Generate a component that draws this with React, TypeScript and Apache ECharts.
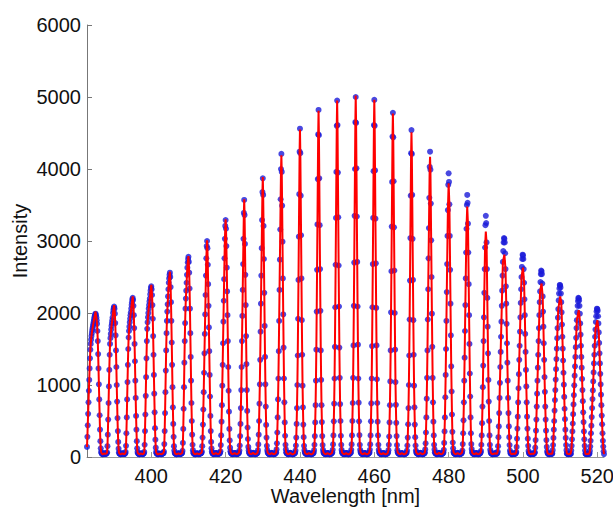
import React, { useEffect, useRef } from "react";
import * as echarts from "echarts";

// Sampling grid of the measured spectrum (nm)
const WAVELENGTH_START = 382.7;
const WAVELENGTH_STEP = 0.1;

const xTickValues = [400, 420, 440, 460, 480, 500, 520];
const yMin = 0;
const yMax = 6000;
const yInterval = 1000;

// Transmission peak centres (nm) and fitted (red curve) peak heights
const peakCentres = [385, 390, 395, 400, 405, 410, 415, 420, 425, 430, 435, 440, 445, 450, 455, 460, 465, 470, 475, 480, 485, 490, 495, 500, 505, 510, 515, 520];
const fitPeakHeights = [2020, 2110, 2230, 2390, 2575, 2790, 3010, 3300, 3580, 3890, 4190, 4550, 4810, 4950, 5020, 4960, 4770, 4510, 4170, 3800, 3480, 3130, 2810, 2630, 2410, 2230, 2040, 1900];

// Measured intensities (blue dots), one row per peak, consecutive samples on the grid
const measuredRows: number[][] = [
  [140, 280, 440, 600, 760, 920, 1070, 1230, 1370, 1490, 1570, 1630, 1680, 1720, 1760, 1790, 1820, 1850, 1880, 1910, 1940, 1960, 1980, 1990, 1970, 1940, 1900, 1850, 1750, 1610, 1430, 1230, 1010, 800, 580, 380, 220, 120, 70, 55, 48, 42, 40, 38, 41, 45, 50, 48],
  [46, 44, 42, 45, 48, 52, 65, 150, 310, 520, 750, 980, 1210, 1420, 1570, 1650, 1710, 1770, 1820, 1860, 1900, 1940, 2000, 2040, 2070, 2090, 2060, 1990, 1860, 1690, 1480, 1250, 1000, 770, 540, 360, 210, 115, 65, 50, 46, 42, 40, 39, 41, 44, 47, 50, 48, 45],
  [44, 42, 41, 43, 47, 52, 70, 155, 330, 550, 800, 1040, 1280, 1500, 1660, 1750, 1810, 1870, 1920, 1970, 2010, 2060, 2110, 2150, 2190, 2210, 2180, 2100, 1970, 1790, 1570, 1330, 1060, 820, 570, 380, 220, 120, 70, 52, 47, 43, 40, 38, 40, 43, 46, 49, 47, 44],
  [43, 41, 40, 42, 46, 52, 70, 170, 360, 590, 850, 1110, 1370, 1610, 1780, 1870, 1940, 2000, 2060, 2110, 2160, 2200, 2260, 2310, 2350, 2370, 2330, 2250, 2110, 1920, 1680, 1420, 1140, 880, 620, 400, 240, 130, 70, 52, 46, 42, 40, 38, 39, 42, 45, 48, 46, 43],
  [42, 40, 39, 41, 44, 47, 50, 52, 55, 75, 180, 360, 610, 900, 1200, 1480, 1720, 1890, 2020, 2120, 2230, 2330, 2420, 2480, 2530, 2560, 2500, 2360, 2150, 1890, 1590, 1280, 970, 690, 460, 280, 150, 90, 58, 50, 45, 42, 40, 38, 39, 41, 44, 47, 50, 48],
  [46, 43, 41, 40, 42, 45, 49, 52, 56, 85, 195, 390, 670, 970, 1310, 1610, 1860, 2060, 2200, 2310, 2420, 2530, 2630, 2700, 2750, 2780, 2710, 2560, 2340, 2060, 1720, 1390, 1060, 750, 500, 310, 170, 95, 60, 52, 46, 42, 40, 39, 40, 42, 45, 48, 51, 49],
  [46, 43, 41, 40, 41, 43, 46, 49, 52, 55, 58, 75, 150, 270, 450, 660, 900, 1170, 1440, 1710, 1980, 2250, 2520, 2760, 2930, 3000, 2900, 2670, 2400, 2100, 1800, 1470, 1140, 840, 570, 360, 210, 120, 75, 58, 50, 45, 42, 40, 41, 43, 46, 49, 52, 55],
  [52, 48, 45, 42, 41, 42, 44, 47, 50, 54, 58, 80, 165, 300, 490, 720, 990, 1280, 1580, 1880, 2170, 2470, 2760, 3030, 3210, 3290, 3170, 2930, 2630, 2300, 1970, 1610, 1250, 920, 630, 390, 230, 130, 80, 60, 52, 46, 43, 41, 40, 42, 45, 48, 51, 54],
  [55, 50, 46, 43, 41, 40, 42, 44, 47, 50, 54, 60, 90, 160, 290, 460, 680, 930, 1250, 1610, 1960, 2320, 2680, 3030, 3390, 3570, 3360, 2960, 2530, 2110, 1680, 1290, 930, 640, 410, 250, 140, 90, 62, 52, 47, 43, 41, 40, 41, 43, 46, 49, 53, 58],
  [54, 49, 45, 42, 40, 40, 41, 43, 46, 50, 55, 62, 95, 175, 310, 500, 740, 1010, 1350, 1740, 2130, 2520, 2900, 3290, 3680, 3870, 3640, 3210, 2750, 2280, 1820, 1390, 1010, 700, 445, 270, 155, 95, 64, 54, 48, 44, 41, 40, 40, 42, 45, 48, 52, 57],
  [53, 48, 44, 41, 40, 40, 41, 44, 47, 51, 56, 64, 105, 190, 340, 550, 800, 1090, 1470, 1890, 2320, 2740, 3160, 3580, 4000, 4210, 3960, 3490, 2990, 2480, 1980, 1520, 1090, 760, 480, 295, 170, 105, 66, 55, 49, 45, 42, 40, 40, 42, 45, 48, 53, 58],
  [52, 48, 45, 42, 40, 39, 40, 42, 44, 47, 50, 54, 60, 90, 160, 270, 460, 680, 1000, 1410, 1920, 2460, 3060, 3650, 4240, 4560, 4220, 3630, 3080, 2480, 1900, 1420, 990, 690, 450, 275, 155, 95, 66, 56, 50, 46, 43, 41, 40, 41, 43, 46, 50, 55],
  [53, 48, 45, 42, 40, 39, 40, 42, 44, 47, 50, 55, 62, 95, 170, 290, 480, 720, 1060, 1490, 2020, 2600, 3230, 3860, 4480, 4820, 4470, 3870, 3220, 2610, 2030, 1480, 1070, 720, 485, 290, 165, 100, 68, 57, 50, 46, 43, 41, 40, 41, 43, 46, 50, 56],
  [54, 49, 45, 42, 40, 39, 40, 42, 44, 47, 51, 56, 63, 100, 175, 300, 495, 740, 1090, 1530, 2080, 2670, 3320, 3960, 4600, 4950, 4610, 3950, 3330, 2660, 2090, 1520, 1100, 735, 500, 295, 170, 100, 68, 57, 50, 46, 43, 41, 40, 41, 43, 46, 51, 56],
  [54, 49, 45, 42, 40, 39, 40, 42, 44, 47, 51, 56, 63, 100, 175, 300, 500, 750, 1100, 1550, 2100, 2700, 3350, 4000, 4650, 5000, 4640, 4010, 3340, 2710, 2090, 1560, 1090, 755, 495, 305, 170, 100, 69, 58, 51, 46, 43, 41, 40, 41, 43, 46, 51, 56],
  [54, 49, 45, 42, 40, 39, 40, 42, 44, 47, 51, 56, 63, 100, 175, 300, 495, 745, 1090, 1540, 2080, 2680, 3320, 3970, 4610, 4960, 4600, 3980, 3310, 2690, 2070, 1550, 1080, 750, 490, 300, 170, 100, 68, 57, 50, 46, 43, 41, 40, 41, 43, 46, 50, 56],
  [53, 48, 45, 42, 40, 39, 40, 42, 44, 47, 50, 55, 62, 95, 170, 285, 480, 720, 1050, 1480, 2010, 2580, 3200, 3820, 4450, 4780, 4440, 3830, 3190, 2590, 2000, 1490, 1040, 725, 475, 290, 165, 95, 66, 56, 50, 46, 43, 41, 40, 41, 43, 46, 50, 55],
  [52, 48, 45, 42, 40, 39, 40, 42, 44, 47, 50, 54, 60, 90, 160, 270, 455, 680, 1000, 1410, 1910, 2450, 3040, 3630, 4220, 4540, 4210, 3640, 3030, 2460, 1900, 1420, 990, 690, 450, 275, 160, 90, 64, 55, 49, 45, 42, 40, 40, 42, 45, 48, 52, 57],
  [54, 49, 45, 42, 40, 40, 41, 43, 46, 50, 55, 62, 105, 190, 340, 550, 810, 1100, 1480, 1910, 2330, 2760, 3180, 3600, 4030, 4240, 3990, 3520, 3010, 2500, 1990, 1530, 1100, 760, 490, 300, 170, 105, 66, 55, 49, 45, 42, 40, 40, 42, 45, 48, 52, 58],
  [53, 48, 45, 42, 40, 40, 41, 43, 46, 50, 55, 63, 100, 195, 355, 550, 830, 1140, 1500, 1890, 2290, 2680, 3070, 3430, 3780, 3940, 3820, 3510, 3070, 2600, 2130, 1690, 1260, 910, 590, 350, 200, 120, 72, 57, 50, 46, 43, 41, 40, 41, 43, 46, 51, 57],
  [52, 48, 44, 42, 40, 40, 41, 43, 46, 50, 54, 62, 90, 180, 330, 510, 760, 1060, 1380, 1750, 2110, 2480, 2840, 3170, 3500, 3640, 3530, 3240, 2840, 2400, 1970, 1570, 1160, 840, 550, 330, 180, 110, 70, 56, 50, 46, 43, 41, 40, 41, 43, 46, 50, 56],
  [51, 47, 44, 42, 40, 40, 41, 43, 46, 49, 54, 61, 85, 170, 300, 470, 700, 970, 1270, 1610, 1940, 2280, 2610, 2910, 3220, 3350, 3250, 2980, 2610, 2210, 1810, 1440, 1070, 770, 500, 300, 170, 100, 68, 55, 49, 45, 42, 40, 40, 41, 43, 45, 48, 52],
  [50, 47, 45, 44, 45, 48, 56, 75, 150, 275, 425, 610, 820, 1030, 1250, 1460, 1670, 1880, 2100, 2310, 2520, 2710, 2860, 2980, 3040, 3030, 2980, 2830, 2610, 2370, 2130, 1850, 1580, 1310, 1060, 820, 610, 425, 275, 165, 90, 60, 50, 45, 42, 40, 40, 42, 45, 49],
  [47, 45, 43, 43, 45, 49, 56, 70, 140, 255, 395, 560, 760, 955, 1150, 1350, 1545, 1740, 1940, 2140, 2330, 2500, 2640, 2750, 2810, 2800, 2750, 2610, 2420, 2190, 1970, 1710, 1460, 1210, 980, 760, 560, 395, 255, 155, 85, 58, 49, 45, 42, 40, 40, 42, 45, 48],
  [46, 44, 43, 43, 45, 48, 55, 65, 130, 235, 365, 520, 700, 880, 1060, 1240, 1420, 1610, 1790, 1970, 2150, 2300, 2430, 2540, 2590, 2580, 2540, 2410, 2230, 2020, 1810, 1580, 1350, 1110, 905, 700, 520, 365, 235, 140, 80, 57, 48, 44, 42, 40, 40, 41, 43, 46],
  [46, 44, 43, 45, 50, 95, 165, 265, 380, 500, 645, 790, 930, 1075, 1220, 1360, 1505, 1650, 1790, 1935, 2055, 2175, 2270, 2340, 2390, 2385, 2355, 2270, 2150, 2010, 1840, 1670, 1505, 1340, 1170, 1005, 835, 670, 525, 380, 265, 165, 95, 50, 46, 43, 41, 40, 42, 44],
  [45, 43, 42, 44, 45, 90, 155, 245, 355, 465, 595, 730, 860, 995, 1130, 1260, 1390, 1525, 1655, 1790, 1900, 2010, 2100, 2165, 2210, 2205, 2175, 2100, 1990, 1855, 1700, 1545, 1390, 1240, 1085, 930, 775, 620, 485, 355, 245, 155, 90, 45, 44, 42, 41, 40, 42, 44],
  [45, 43, 42, 44, 48, 85, 145, 225, 330, 435, 555, 680, 805, 925, 1050, 1175, 1300, 1420, 1545, 1670, 1770, 1875, 1955, 2020, 2060, 2055, 2030, 1955, 1855, 1730, 1585, 1440, 1300, 1155, 1010, 865, 720, 575, 455, 330, 225, 145, 80, 40],
];

const FONT = "'Liberation Sans', Arial, Helvetica, sans-serif";

export default function App() {
  const ref = useRef<HTMLDivElement>(null);

  useEffect(() => {
    if (!ref.current) return;
    const chart = echarts.init(ref.current, null, { renderer: "svg" });

    const measured: [number, number][] = [];
    const fitted: [number, number][] = [];
    let n = 0;
    measuredRows.forEach((row, k) => {
      const centre = peakCentres[k];
      const top = fitPeakHeights[k];
      const seg: [number, number][] = [];
      row.forEach((v) => {
        const lam = Math.round((WAVELENGTH_START + WAVELENGTH_STEP * n) * 10) / 10;
        n++;
        measured.push([lam, v]);
        if (Math.abs(lam - centre) <= 0.55 && v > 0.97 * top) return;
        seg.push([lam, v]);
      });
      seg.push([centre, top]);
      seg.sort((a, b) => a[0] - b[0]);
      fitted.push(...seg);
    });
    const xMax = measured[measured.length - 1][0];

    chart.setOption({
      animation: false,
      backgroundColor: "#ffffff",
      grid: { left: 87, right: 9, top: 25, bottom: 50, containLabel: false, outerBoundsMode: "none" },
      xAxis: {
        type: "value",
        min: WAVELENGTH_START,
        max: xMax,
        name: "Wavelength [nm]",
        nameLocation: "middle",
        nameGap: 29,
        nameMoveOverlap: false,
        nameTextStyle: { fontSize: 20, lineHeight: 20, color: "#111", fontFamily: FONT },
        axisLine: { show: true, onZero: false, lineStyle: { color: "#999", width: 1 } },
        axisTick: { show: true, inside: true, length: 5, customValues: xTickValues, lineStyle: { color: "#999" } },
        axisLabel: {
          customValues: xTickValues,
          fontSize: 20,
          lineHeight: 20,
          color: "#111",
          margin: 9,
          fontFamily: FONT,
          formatter: (v: number) => String(v),
        },
        splitLine: { show: false },
      },
      yAxis: {
        type: "value",
        min: yMin,
        max: yMax,
        interval: yInterval,
        name: "Intensity",
        nameLocation: "middle",
        nameGap: 57,
        nameMoveOverlap: false,
        nameRotate: 90,
        nameTextStyle: { fontSize: 20, color: "#111", fontFamily: FONT },
        axisLine: { show: true, lineStyle: { color: "#777", width: 1 } },
        axisTick: { show: true, inside: true, length: 5, lineStyle: { color: "#777" } },
        axisLabel: {
          fontSize: 20,
          color: "#111",
          margin: 6,
          fontFamily: FONT,
          formatter: (v: number) => String(v),
        },
        splitLine: { show: false },
      },
      series: [
        {
          type: "scatter",
          data: measured,
          symbol: "circle",
          symbolSize: 6,
          itemStyle: { color: "#1a1ad8" },
          z: 2,
          silent: true,
        },
        {
          type: "line",
          data: fitted,
          showSymbol: false,
          symbol: "none",
          lineStyle: { color: "#ff0000", width: 2 },
          z: 3,
          silent: true,
        },
      ],
    });

    return () => chart.dispose();
  }, []);

  return (
    <div
      ref={ref}
      style={{ position: "fixed", left: 0, top: 0, width: 613, height: 507, background: "#fff" }}
    />
  );
}
